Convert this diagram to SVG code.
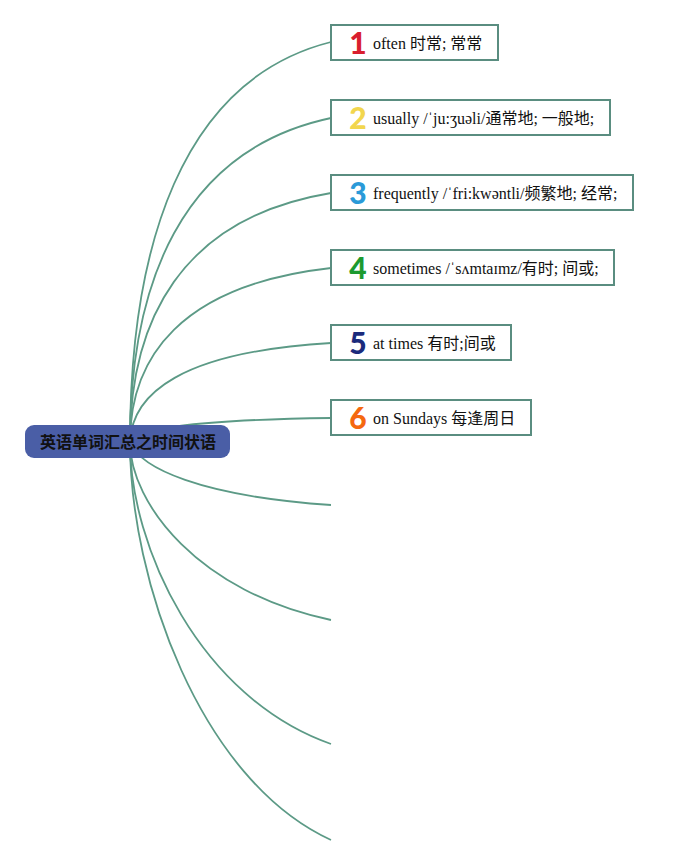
<svg xmlns="http://www.w3.org/2000/svg" width="678" height="866" viewBox="0 0 678 866">
<style>
.ln{fill:none;stroke:#5c9a86;stroke-width:1.8}
.box{fill:#ffffff;stroke:#5a8d80;stroke-width:2}
.lbl{font-family:"Liberation Serif","Noto Sans CJK SC",serif;font-size:16px;fill:#111}
.num{font-family:"Lato","Open Sans",sans-serif;font-weight:900;font-size:30px;text-anchor:middle}
.ctr{font-family:"Noto Sans CJK SC",sans-serif;font-weight:bold;font-size:16px;fill:#111;text-anchor:middle}
</style>
<rect width="678" height="866" fill="#ffffff"/>
<g id="connectors">
<path class="ln" d="M130,442 C130,250 180,80 331,42"/>
<path class="ln" d="M130,442 C130,286 180,150 331,118"/>
<path class="ln" d="M130,442 C130,322 180,218 331,193"/>
<path class="ln" d="M130,442 C130,358 180,285 331,268"/>
<path class="ln" d="M130,442 C132,394 180,352 331,343"/>
<path class="ln" d="M130,442 C140,430 180,420 331,418"/>
<path class="ln" d="M130,442 C140,468 200,496 331,505"/>
<path class="ln" d="M130,442 C130,504 200,593 331,620"/>
<path class="ln" d="M130,442 C130,547 200,698 331,744"/>
<path class="ln" d="M130,442 C130,580 200,780 331,840"/>
</g>
<g id="root">
<rect x="25" y="425" width="205" height="33" rx="9" fill="#4a5ea6"/>
<text class="ctr" x="128" y="448">英语单词汇总之时间状语</text>
</g>
<g id="n1">
<rect class="box" x="331" y="25" width="167" height="35"/>
<text class="num" x="358" y="54" fill="#d91e2e">1</text>
<text class="lbl" x="373" y="48.5">often 时常; 常常</text>
</g>
<g id="n2">
<rect class="box" x="331" y="100" width="279" height="35"/>
<text class="num" x="358" y="129" fill="#f2d64e">2</text>
<text class="lbl" x="373" y="123.5">usually /ˈju:ʒuəli/通常地; 一般地;</text>
</g>
<g id="n3">
<rect class="box" x="331" y="175" width="302" height="35"/>
<text class="num" x="358" y="204" fill="#2a9ad8">3</text>
<text class="lbl" x="373" y="198.5">frequently /ˈfri:kwəntli/频繁地; 经常;</text>
</g>
<g id="n4">
<rect class="box" x="331" y="250" width="283" height="35"/>
<text class="num" x="358" y="279" fill="#1c9a30">4</text>
<text class="lbl" x="373" y="273.5">sometimes /ˈsʌmtaɪmz/有时; 间或;</text>
</g>
<g id="n5">
<rect class="box" x="331" y="325" width="180" height="35"/>
<text class="num" x="358" y="354" fill="#1b2b7c">5</text>
<text class="lbl" x="373" y="348.5">at times 有时;间或</text>
</g>
<g id="n6">
<rect class="box" x="331" y="400" width="200" height="35"/>
<text class="num" x="358" y="429" fill="#f5680f">6</text>
<text class="lbl" x="373" y="423.5">on Sundays 每逢周日</text>
</g>
</svg>
